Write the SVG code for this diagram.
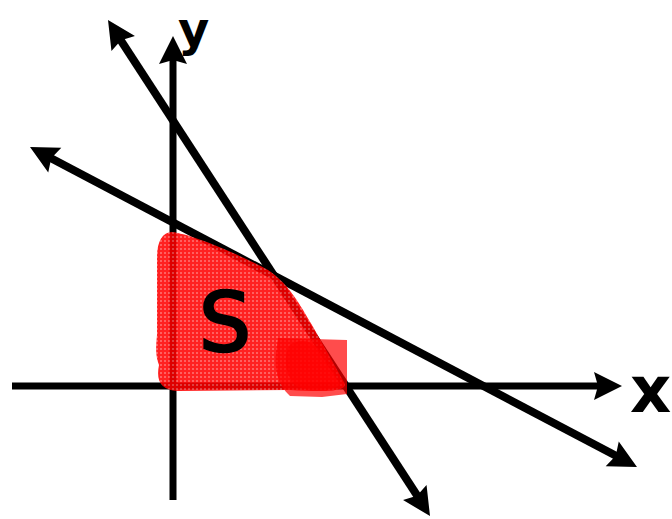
<svg xmlns="http://www.w3.org/2000/svg" width="672" height="519" viewBox="0 0 672 519">
<style>
.ln{stroke:#000;stroke-width:8;fill:none}
.ax{stroke:#000;stroke-width:7;fill:none}
.head{fill:#000}
.lbl{font-family:"DejaVu Sans",sans-serif;font-weight:bold;fill:#000}
</style>
<defs>
<path id="head" d="M0,0 L-28,-14 L-24,0 L-28,14 Z"/>
<pattern id="hatch" width="4" height="4" patternUnits="userSpaceOnUse">
<rect width="4" height="4" fill="#ff0000"/>
<rect width="2" height="2" fill="#ff4848"/>
</pattern>
</defs>
<rect width="672" height="519" fill="#fff"/>
<g id="connectors">
<line class="ax" x1="173" y1="500" x2="173" y2="52"/>
<use href="#head" class="head" transform="translate(173,36) rotate(-90)"/>
<line class="ax" x1="12" y1="386" x2="606" y2="386"/>
<use href="#head" class="head" transform="translate(622,386)"/>
<line class="ln" x1="116" y1="33" x2="422" y2="503"/>
<use href="#head" class="head" transform="translate(108,20) rotate(-122.9)"/>
<use href="#head" class="head" transform="translate(430,516) rotate(57.1)"/>
<line class="ln" x1="43" y1="154" x2="624" y2="460"/>
<use href="#head" class="head" transform="translate(30,147) rotate(-152.2)"/>
<use href="#head" class="head" transform="translate(637,467) rotate(27.8)"/>
</g>
<g id="region-S">
<path d="M172,232 C190,234 230,250 268,270 C290,285 300,305 312,325 L345,384 C346,392 320,392 290,390 L178,391 C160,390 156,380 159,365 C155,355 156,345 157,335 L157,258 C157,242 162,232 172,232 Z" fill="url(#hatch)" fill-opacity="0.87"/>
<path d="M278,338 L347,340 L347,394 L322,397 L290,396 C278,385 274,370 276,352 Z" fill="#ff0000" fill-opacity="0.7"/>
<path d="M290,345 C305,335 318,345 328,360 L340,385 C330,392 305,392 295,385 C285,375 283,355 290,345 Z" fill="#ff0000" fill-opacity="0.6"/>
<text x="225" y="351" font-size="82" text-anchor="middle" font-family="DejaVu Sans, sans-serif" fill="#000" stroke="#000" stroke-width="2.5">S</text>
</g>
<g id="label-y"><text class="lbl" x="178" y="46" font-size="48">y</text></g>
<g id="label-x"><text class="lbl" x="630" y="412" font-size="64">x</text></g>
</svg>
